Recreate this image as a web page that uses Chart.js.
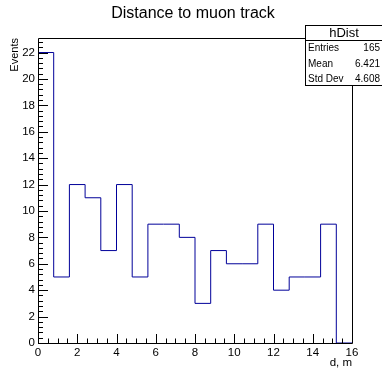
<!DOCTYPE html>
<html>
<head>
<meta charset="utf-8">
<script src="https://cdn.jsdelivr.net/npm/chart.js@4"></script>
<style>
  body { margin: 0; background: #fff; }
  #wrap { width: 382px; height: 370px; }
</style>
</head>
<body>
<div id="wrap"><canvas id="histChart" width="382" height="370"></canvas></div>
<script>
// ── Data ─────────────────────────────────────────────
const binEdges = [0, 0.8, 1.6, 2.4, 3.2, 4.0, 4.8, 5.6, 6.4, 7.2, 8.0,
                  8.8, 9.6, 10.4, 11.2, 12.0, 12.8, 13.6, 14.4, 15.2, 16.0];
const binCounts = [22, 5, 12, 11, 7, 12, 5, 9, 9, 8, 3, 7, 6, 6, 9, 4, 5, 5, 9, 0];
const xTicks = [0, 2, 4, 6, 8, 10, 12, 14, 16];
const yTicks = [0, 2, 4, 6, 8, 10, 12, 14, 16, 18, 20, 22];
const statLabels = ['Entries', 'Mean', 'Std Dev'];
const statValues = ['165', '6.421', '4.608'];
const chartTitle = 'Distance to muon track';

const FONT = '"Liberation Sans", Arial, Helvetica, sans-serif';
const LINE_BLUE = '#000099';

// step outline: start at (0,0), then each bin's left edge with its count,
// then the right edge of the last bin
const stepPoints = [{ x: binEdges[0], y: 0 }];
binCounts.forEach((c, i) => stepPoints.push({ x: binEdges[i], y: c }));
stepPoints.push({ x: binEdges[binEdges.length - 1], y: binCounts[binCounts.length - 1] });

// ── Title, frame, inward ticks, stats box ────────────
const rootFrame = {
    id: 'rootFrame',
    afterDraw(chart) {
        const { ctx, chartArea: a, scales: { x, y } } = chart;
        ctx.save();

        // pad title, centred on the whole canvas like ROOT does
        ctx.fillStyle = '#000';
        ctx.font = '16px ' + FONT;
        ctx.textAlign = 'center';
        ctx.textBaseline = 'middle';
        ctx.fillText(chartTitle, 193, 14);

        ctx.strokeStyle = '#000';
        ctx.lineWidth = 1;
        ctx.beginPath();
        ctx.rect(a.left + 0.5, a.top + 0.5, a.right - a.left, a.bottom - a.top);
        ctx.stroke();

        ctx.beginPath();
        // y ticks: major every 2, minor every 0.4
        for (let v = 0; v <= y.max + 1e-6; v += 0.4) {
            const isMajor = Math.abs(v / 2 - Math.round(v / 2)) < 1e-6;
            const py = Math.round(y.getPixelForValue(v)) + 0.5;
            ctx.moveTo(a.left, py);
            ctx.lineTo(a.left + (isMajor ? 10 : 5), py);
        }
        // x ticks: major every 2, minor every 0.5
        for (let v = 0; v <= x.max + 1e-6; v += 0.5) {
            const isMajor = Math.abs(v / 2 - Math.round(v / 2)) < 1e-6;
            const px = Math.round(x.getPixelForValue(v)) + 0.5;
            ctx.moveTo(px, a.bottom);
            ctx.lineTo(px, a.bottom - (isMajor ? 9 : 4.5));
        }
        ctx.stroke();

        // stats box
        const bx = 305.5, by = 25.5, bw = 80, bh = 60;
        ctx.fillStyle = '#fff';
        ctx.fillRect(bx, by, bw, bh);
        ctx.strokeRect(bx, by, bw, bh);
        ctx.beginPath();
        ctx.moveTo(bx, 40.5);
        ctx.lineTo(bx + bw, 40.5);
        ctx.stroke();

        ctx.fillStyle = '#000';
        ctx.textAlign = 'center';
        ctx.font = '13px ' + FONT;
        ctx.fillText('hDist', 344, 33);
        ctx.font = '10px ' + FONT;
        statLabels.forEach((lbl, i) => {
            const ty = 48.5 + i * 15.5;
            ctx.textAlign = 'left';
            ctx.fillText(lbl, 308, ty);
            ctx.textAlign = 'right';
            ctx.fillText(statValues[i], 380, ty);
        });
        ctx.restore();
    }
};

new Chart(document.getElementById('histChart'), {
    type: 'line',
    data: {
        datasets: [{
            data: stepPoints,
            stepped: true,
            borderColor: LINE_BLUE,
            borderWidth: 1,
            pointRadius: 0,
            fill: false
        }]
    },
    options: {
        responsive: false,
        animation: false,
        layout: { padding: { top: 38, right: 30, left: 0, bottom: 0 } },
        plugins: {
            legend: { display: false },
            tooltip: { enabled: false },
            title: { display: false }
        },
        scales: {
            x: {
                type: 'linear',
                min: 0, max: 16,
                afterFit: s => { s.height = 27; },
                afterBuildTicks: s => { s.ticks = xTicks.map(v => ({ value: v })); },
                grid: { display: false, drawTicks: false },
                border: { display: false },
                ticks: { color: '#000', font: { family: FONT, size: 11.5 }, padding: 3, maxRotation: 0, autoSkip: false },
                title: { display: true, text: 'd, m', align: 'end', color: '#000',
                         font: { family: FONT, size: 11.5 }, padding: { top: 0, bottom: 0 } }
            },
            y: {
                min: 0, max: 23.1,
                afterFit: s => { s.width = 38; },
                afterBuildTicks: s => { s.ticks = yTicks.map(v => ({ value: v })); },
                grid: { display: false, drawTicks: false },
                border: { display: false },
                ticks: { color: '#000', font: { family: FONT, size: 11.5 }, padding: 3, autoSkip: false },
                title: { display: true, text: 'Events', align: 'end', color: '#000',
                         font: { family: FONT, size: 11 }, padding: { top: 8, bottom: 0 } }
            }
        }
    },
    plugins: [rootFrame]
});
</script>
</body>
</html>
